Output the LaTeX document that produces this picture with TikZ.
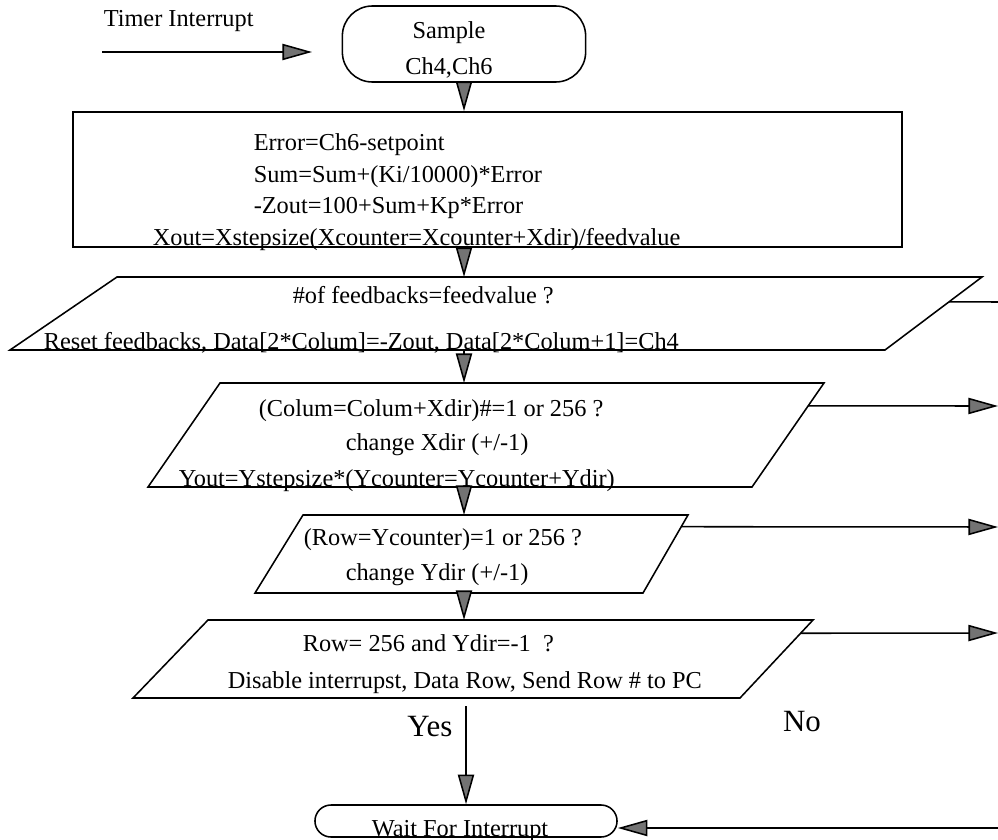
\documentclass[tikz,border=0pt]{standalone}
\usepackage{fontspec}
\setmainfont{Liberation Serif}
\usetikzlibrary{arrows.meta,calc}
\tikzset{
  flow/.style={-{Triangle[length=21pt,width=11.5pt,fill=black!55]}},
  txt/.style={anchor=base west,inner sep=0pt,font=\fontsize{17.3}{20}\selectfont},
  ctxt/.style={txt,anchor=base},
  big/.style={inner sep=0pt,font=\fontsize{22}{26}\selectfont},
  term/.style={draw,inner sep=0pt}
}
\begin{document}
\begin{tikzpicture}[x=0.025cm,y=-0.025cm,line width=1.1pt]
\useasboundingbox (0,0) rectangle (998,840);
\node[txt] (timer) at (103,27) {Timer Interrupt};
\coordinate (t0) at (102,52);
\coordinate (t1) at (312,52);
\draw[flow] (t0) -- (t1);
\node[term,rounded corners=0.75cm,minimum width=6.08cm,minimum height=1.9cm] (sample) at (464,44) {};
\node[ctxt] (s1) at (449,39) {Sample};
\node[ctxt] (s2) at (449,75) {Ch4,Ch6};
\node[term,minimum width=20.72cm,minimum height=3.38cm] (calc) at (487.5,179.5) {};
\node[txt] (c1) at (253,151) {Error=Ch6-setpoint};
\node[txt] (c2) at (253,182) {Sum=Sum+(Ki/10000)*Error};
\node[txt] (c3) at (253,213) {-Zout=100+Sum+Kp*Error};
\node[txt] (c4) at (152,245) {Xout=Xstepsize(Xcounter=Xcounter+Xdir)/feedvalue};
\draw (117,277) coordinate (p1nw) -- (982,277) coordinate (p1ne)
  -- (885,350) coordinate (p1se) -- (10,350) coordinate (p1sw) -- cycle;
\node[txt] (f1) at (292,303) {\#of feedbacks=feedvalue ?};
\node[txt] (f2) at (43,349) {Reset feedbacks, Data[2*Colum]=-Zout, Data[2*Colum+1]=Ch4};
\draw (220,383) coordinate (p2nw) -- (824,383) coordinate (p2ne)
  -- (752,487) coordinate (p2se) -- (148,487) coordinate (p2sw) -- cycle;
\node[txt] (x1) at (258,416) {(Colum=Colum+Xdir)\#=1 or 256 ?};
\node[txt] (x2) at (345,450) {change Xdir (+/-1)};
\node[txt] (x3) at (178,486) {Yout=Ystepsize*(Ycounter=Ycounter+Ydir)};
\draw (303,515) coordinate (p3nw) -- (688,515) coordinate (p3ne)
  -- (643,593) coordinate (p3se) -- (255,593) coordinate (p3sw) -- cycle;
\node[txt] (y1) at (303,545) {(Row=Ycounter)=1 or 256 ?};
\node[txt] (y2) at (345,580) {change Ydir (+/-1)};
\draw (208,620) coordinate (p4nw) -- (813,620) coordinate (p4ne)
  -- (740,698) coordinate (p4se) -- (133,698) coordinate (p4sw) -- cycle;
\node[txt] (r1) at (302,651) {Row= 256 and Ydir=-1 \ ?};
\node[txt] (r2) at (227,688) {Disable interrupst, Data Row, Send Row \# to PC};
\node[term,rounded corners=0.4cm,minimum width=7.55cm,minimum height=0.8cm] (wait) at (466,821) {};
\node[ctxt] (w1) at (460,836) {Wait For Interrupt};
\draw[flow] (sample.south) -- (sample.south |- calc.north);
\draw[flow] (sample.south |- calc.south) -- (sample.south |- p1nw);
\draw[flow] (sample.south |- p1sw) -- (sample.south |- p2nw);
\draw[flow] (sample.south |- p2sw) -- (sample.south |- p3nw);
\draw[flow] (sample.south |- p3sw) -- (sample.south |- p4nw);
\coordinate (p1out) at ($(p1ne)!.34!(p1se)$);
\coordinate (p1end) at (998,302);
\draw (p1out) -- (p1end);
\coordinate (p2out) at ($(p2ne)!.22!(p2se)$);
\coordinate (p2end) at (998,406);
\draw[flow] (p2out) -- (p2end);
\coordinate (p3out) at ($(p3ne)!.15!(p3se)$);
\coordinate (p3end) at (998,527);
\draw[flow] (p3out) -- (p3end);
\coordinate (p4out) at ($(p4ne)!.17!(p4se)$);
\coordinate (p4end) at (998,633);
\draw[flow] (p4out) -- (p4end);
\coordinate (yes0) at (466,706);
\draw[flow] (yes0) -- (wait.north);
\node[big] (yes) at (430,727) {Yes};
\node[big] (no) at (802,722) {No};
\coordinate (ret) at (998,828);
\draw[flow] (ret) -- (ret -| wait.east);
\end{tikzpicture}
\end{document}
